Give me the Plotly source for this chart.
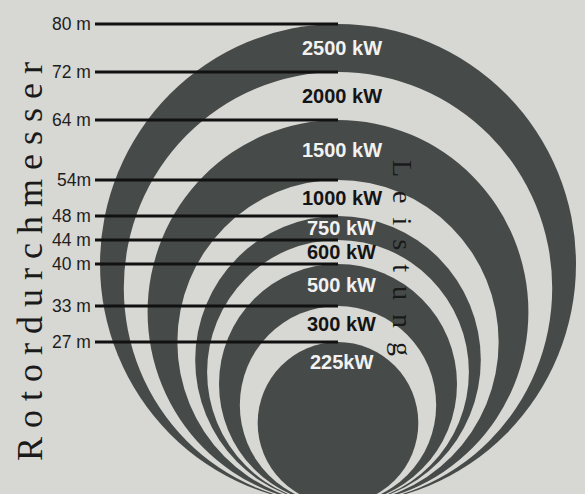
import plotly.graph_objects as go

# Data
diameters_m = [80, 72, 64, 54, 48, 44, 40, 33, 27]
diameter_labels = ["80 m", "72 m", "64 m", "54m", "48 m", "44 m", "40 m", "33 m", "27 m"]
power_labels = ["2500 kW", "2000 kW", "1500 kW", "1000 kW", "750 kW", "600 kW", "500 kW", "300 kW", "225kW"]

W, H = 585, 494
BG = "#d7d7d3"
DARK = "#464b49"

# pixel mapping (data units = metres)
SX, SY = 5.95, 6.0       # px per metre
CX, BOTTOM = 338, 504    # pixel of circle centre x / common tangent point
x_range = [-CX / SX, (W - CX) / SX]
y_range = [(BOTTOM - H) / SY, BOTTOM / SY]
line_start = (95 - CX) / SX

fig = go.Figure()

shapes = []
for i, d in enumerate(diameters_m):
    col = DARK if i % 2 == 0 else BG
    shapes.append(dict(type="circle", xref="x", yref="y", layer="below",
                       x0=-d / 2, x1=d / 2, y0=0, y1=d,
                       fillcolor=col, line=dict(width=0)))

# horizontal marker lines
lx, ly = [], []
for d in diameters_m:
    lx += [line_start, 0, None]
    ly += [d, d, None]
fig.add_trace(go.Scatter(x=lx, y=ly, mode="lines",
                         line=dict(color="#111111", width=3.2),
                         hoverinfo="skip", showlegend=False))

annotations = []
for d, lab in zip(diameters_m, diameter_labels):
    annotations.append(dict(x=line_start, y=d, xref="x", yref="y", text=lab,
                            showarrow=False, xanchor="right", yanchor="middle",
                            xshift=-2,
                            font=dict(family="Liberation Sans, Arial", size=17.5, color="#1e1e1e")))

for i, (d, lab) in enumerate(zip(diameters_m, power_labels)):
    if i + 1 < len(diameters_m):
        yy = (d + diameters_m[i + 1]) / 2
    else:
        yy = d - 3.4
    col = "#f2f2f2" if i % 2 == 0 else "#141414"
    annotations.append(dict(x=0.6, y=yy, xref="x", yref="y", text="<b>" + lab + "</b>",
                            showarrow=False, xanchor="center", yanchor="middle",
                            font=dict(family="Liberation Sans, Arial", size=20, color=col)))

annotations.append(dict(x=30 / W, y=1 - 262 / H, xref="paper", yref="paper",
                        text=" ".join("Rotordurchmesser"), textangle=-90,
                        showarrow=False, xanchor="center", yanchor="middle",
                        font=dict(family="Liberation Serif, Times New Roman", size=36, color="#1a1a1a")))
annotations.append(dict(x=403 / W, y=1 - 258 / H, xref="paper", yref="paper",
                        text="\u2002".join("Leistung"), textangle=90,
                        showarrow=False, xanchor="center", yanchor="middle",
                        font=dict(family="Liberation Serif, Times New Roman", size=28, color="#1a1a1a")))

fig.update_layout(
    width=W, height=H,
    margin=dict(l=0, r=0, t=0, b=0),
    paper_bgcolor=BG, plot_bgcolor=BG,
    shapes=shapes, annotations=annotations,
    showlegend=False,
    xaxis=dict(range=x_range, visible=False, fixedrange=True),
    yaxis=dict(range=y_range, visible=False, fixedrange=True),
)

fig.write_html("out.html", config={"displayModeBar": False},
               post_script="document.body.style.margin='0';document.body.style.background='%s';" % BG)
